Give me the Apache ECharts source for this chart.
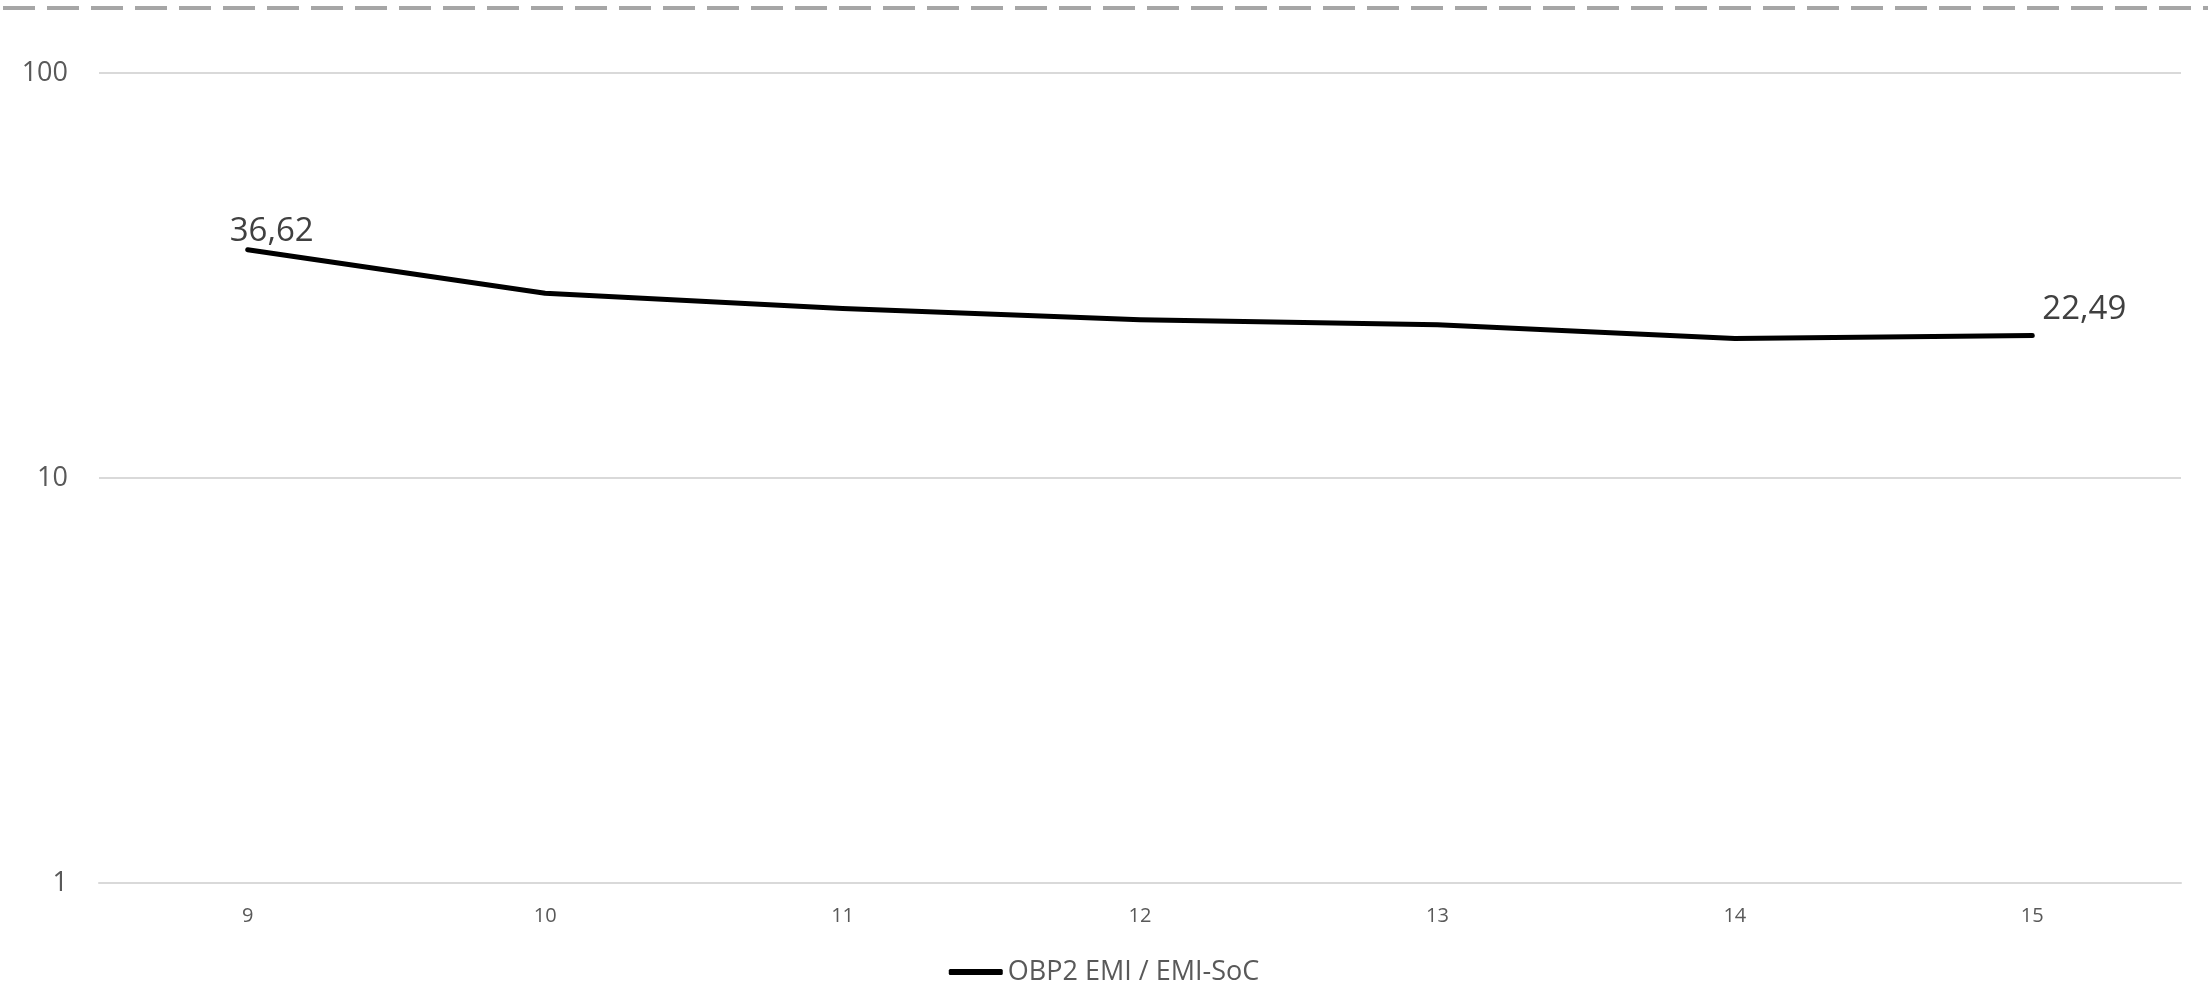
<html>
<head>
    <script src="https://cdn.jsdelivr.net/npm/echarts@6/dist/echarts.min.js"></script>
    <style>
        html, body { margin: 0; padding: 0; background: #fff; }
    </style>
</head>
<body>
    <div id="chart" style="width: 2208px;height:986px;"></div>
    <script>
        // categories and values
        var categories = ['9', '10', '11', '12', '13', '14', '15'];
        var ratio = [36.62, 28.6, 26.2, 24.6, 23.9, 22.1, 22.49];
        var seriesName = 'OBP2 EMI / EMI-SoC';
        var yTicks = [1, 10, 100];

        var font = '"Open Sans", "Noto Sans", sans-serif';

        function fmt(v) {
            return String(v).replace('.', ',');
        }

        var option = {
            animation: false,
            backgroundColor: '#ffffff',
            textStyle: { fontFamily: font },
            graphic: [{
                type: 'line',
                shape: { x1: 3, y1: 8, x2: 2208, y2: 8 },
                style: { stroke: '#a6a6a6', lineWidth: 4, lineDash: [32, 12] }
            }],
            grid: { left: 99, right: 27, top: 73, bottom: 103 },
            legend: {
                top: 945,
                left: 'center',
                itemWidth: 54,
                itemHeight: 6,
                itemGap: 20,
                textStyle: { fontSize: 27, color: '#595959', fontFamily: font },
                data: [{ name: seriesName, icon: 'roundRect' }]
            },
            xAxis: {
                type: 'category',
                data: categories,
                boundaryGap: true,
                axisLine: { show: true, lineStyle: { color: '#d9d9d9', width: 2 } },
                axisTick: { show: false },
                axisLabel: { color: '#595959', fontSize: 20, margin: 17, fontFamily: font }
            },
            yAxis: {
                type: 'log',
                logBase: 10,
                min: yTicks[0],
                max: yTicks[yTicks.length - 1],
                axisLine: { show: false },
                axisTick: { show: false },
                splitLine: { lineStyle: { color: '#d9d9d9', width: 2 } },
                axisLabel: { color: '#595959', fontSize: 27, margin: 31, fontFamily: font }
            },
            series: [{
                name: seriesName,
                type: 'line',
                data: ratio.map(function (v, i) {
                    var lbl = { show: false };
                    if (i === 0) {
                        lbl = { show: true, position: 'top', offset: [24, 13], distance: 4 };
                    } else if (i === ratio.length - 1) {
                        lbl = { show: true, position: 'right', offset: [4, -26], distance: 6 };
                    }
                    return { value: v, label: lbl };
                }),
                symbol: 'circle',
                symbolSize: 0,
                showSymbol: true,
                lineStyle: { color: '#000000', width: 5, cap: 'round', join: 'round' },
                itemStyle: { color: '#000000' },
                label: {
                    fontSize: 33,
                    color: '#404040',
                    fontFamily: font,
                    formatter: function (p) { return fmt(p.value); }
                }
            }]
        };

        var myChart = echarts.init(document.getElementById('chart'));
        myChart.setOption(option);
    </script>
</body>
</html>
